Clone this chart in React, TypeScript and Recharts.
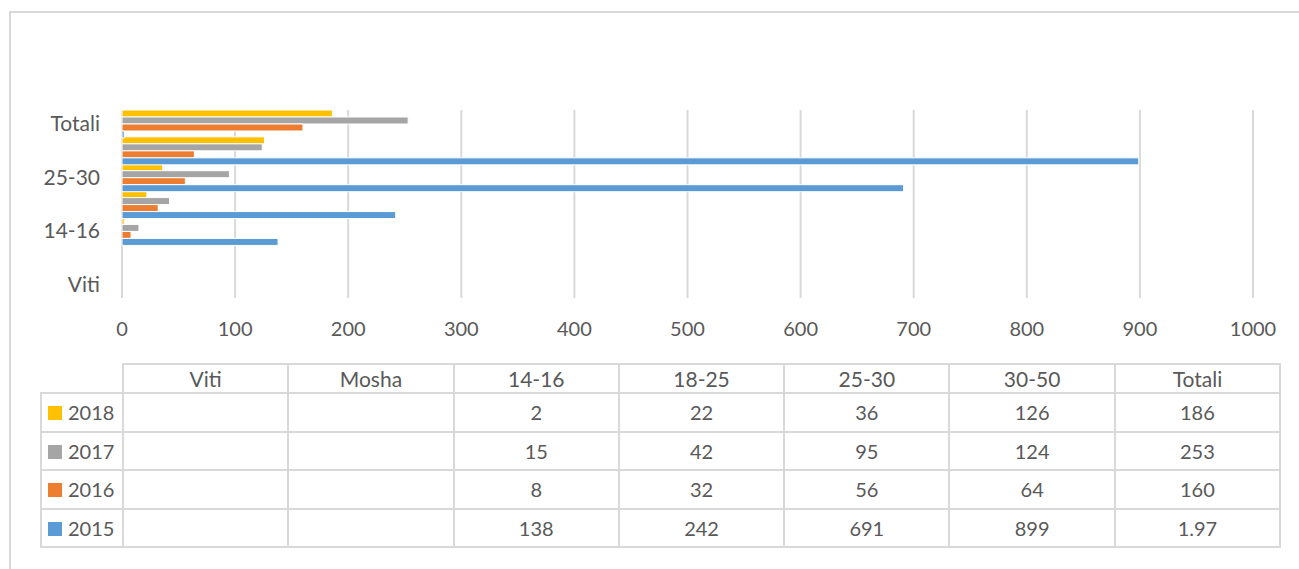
import { Bar, BarChart, CartesianGrid, XAxis, YAxis } from "recharts";

const categories = ["Viti", "Mosha", "14-16", "18-25", "25-30", "30-50", "Totali"];
const v2015 = [null, null, 138, 242, 691, 899, 1.97];
const v2016 = [null, null, 8, 32, 56, 64, 160];
const v2017 = [null, null, 15, 42, 95, 124, 253];
const v2018 = [null, null, 2, 22, 36, 126, 186];
const xTicks = [0, 100, 200, 300, 400, 500, 600, 700, 800, 900, 1000];

// top to bottom, same order as the table rows
const series = [
  { key: "2018", values: v2018, color: "#FFC000" },
  { key: "2017", values: v2017, color: "#A5A5A5" },
  { key: "2016", values: v2016, color: "#ED7D31" },
  { key: "2015", values: v2015, color: "#5B9BD5" },
];

const data = categories.map((cat, i) => {
  const row: Record<string, string | number | null> = { cat };
  series.forEach((s) => (row[s.key] = s.values[i]));
  return row;
});

const FONT = "Lato, 'Open Sans', sans-serif";
const TEXT = "#595959";
const LINE = "#d9d9d9";

const cell: React.CSSProperties = {
  border: `2px solid ${LINE}`,
  textAlign: "center",
  padding: 0,
  fontSize: 20,
  color: TEXT,
};

export default function App() {
  return (
    <div
      style={{
        position: "absolute",
        left: 0,
        top: 0,
        width: 1299,
        height: 569,
        overflow: "hidden",
        background: "#fff",
        fontFamily: FONT,
      }}
    >
      <div
        style={{
          position: "absolute",
          left: 9,
          top: 11,
          width: 1400,
          height: 700,
          borderLeft: `2px solid ${LINE}`,
          borderTop: `2px solid ${LINE}`,
        }}
      />
      <div style={{ position: "absolute", left: 0, top: 0 }}>
        <BarChart
          width={1299}
          height={340}
          data={data}
          layout="vertical"
          barCategoryGap={0}
          barGap={0}
          margin={{ top: 110, right: 46, bottom: 12, left: 0 }}
        >
          <CartesianGrid horizontal={false} stroke={LINE} strokeWidth={2} />
          <XAxis
            type="number"
            domain={[0, 1000]}
            ticks={xTicks}
            axisLine={false}
            tickLine={false}
            tickSize={0}
            tickMargin={24}
            height={30}
            tick={{ fill: TEXT, fontSize: 20, fontFamily: FONT }}
          />
          <YAxis
            type="category"
            dataKey="cat"
            reversed
            interval={1}
            width={122}
            axisLine={false}
            tickLine={false}
            tickSize={0}
            tickMargin={22}
            tick={{ fill: TEXT, fontSize: 21, fontFamily: FONT }}
          />
          {series.map((s) => (
            <Bar
              key={s.key}
              dataKey={s.key}
              fill={s.color}
              stroke="#fff"
              strokeWidth={1}
              isAnimationActive={false}
            />
          ))}
        </BarChart>
      </div>
      <table
        style={{
          position: "absolute",
          left: 40,
          top: 363,
          borderCollapse: "collapse",
          tableLayout: "fixed",
          width: 1239,
          fontFamily: FONT,
        }}
      >
        <colgroup>
          <col style={{ width: 82 }} />
          {categories.map((c) => (
            <col key={c} style={{ width: 165.3 }} />
          ))}
        </colgroup>
        <tbody>
          <tr style={{ height: 29 }}>
            <td style={{ ...cell, border: "none" }} />
            {categories.map((c) => (
              <td key={c} style={{ ...cell, fontSize: 21 }}>
                {c}
              </td>
            ))}
          </tr>
          {series.map((s) => (
            <tr key={s.key} style={{ height: 38.5 }}>
              <td style={{ ...cell, textAlign: "left", paddingLeft: 6 }}>
                <span
                  style={{
                    display: "inline-block",
                    width: 14,
                    height: 14,
                    background: s.color,
                    marginRight: 6,
                  }}
                />
                {s.key}
              </td>
              {s.values.map((v, i) => (
                <td key={i} style={cell}>
                  {v === null ? "" : String(v)}
                </td>
              ))}
            </tr>
          ))}
        </tbody>
      </table>
    </div>
  );
}
